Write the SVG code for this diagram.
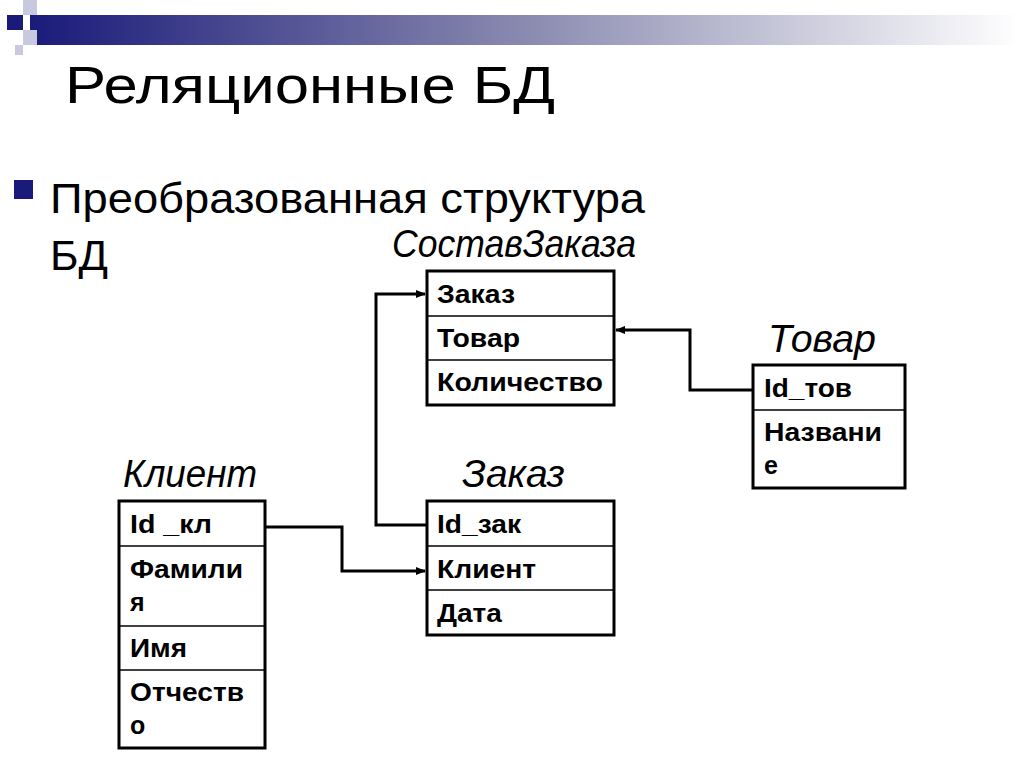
<svg xmlns="http://www.w3.org/2000/svg" width="1024" height="768" viewBox="0 0 1024 768">
<defs>
<linearGradient id="g" x1="0" x2="1" y1="0" y2="0">
<stop offset="0" stop-color="#1a1a7a"/><stop offset="0.5" stop-color="#8a8ab0"/><stop offset="1" stop-color="#ffffff"/>
</linearGradient>
<marker id="ar" markerWidth="10" markerHeight="8" refX="9" refY="4" orient="auto" markerUnits="userSpaceOnUse">
<path d="M0,0 L10,4 L0,8 Z" fill="#000"/>
</marker>
<style>
.t{fill:#fff;stroke:#000;stroke-width:3}
.r{stroke:#000;stroke-width:1.5}
.f{font-family:"Liberation Sans",Arial,sans-serif;font-weight:bold;font-size:25px;fill:#000}
.h{font-family:"Liberation Sans",Arial,sans-serif;font-style:italic;font-size:38px;fill:#000}
.c{fill:none;stroke:#000;stroke-width:3}
</style>
</defs>
<rect width="1024" height="768" fill="#fff"/>
<rect x="30" y="15" width="990" height="30" fill="url(#g)"/>
<rect x="7" y="15" width="16" height="15" fill="#1a1a7a"/>
<rect x="23" y="0" width="14" height="15" fill="#c8c8e0"/>
<rect x="23" y="30" width="14" height="15" fill="#c8c8e0"/>
<rect x="15" y="45" width="8" height="10" fill="#c8c8e0"/>
<text x="65" y="103" font-family="Liberation Sans,Arial,sans-serif" font-size="52" fill="#000" textLength="490" lengthAdjust="spacingAndGlyphs">Реляционные БД</text>
<rect x="14" y="180" width="19" height="19" fill="#1a1a7a"/>
<text x="50" y="213" font-family="Liberation Sans,Arial,sans-serif" font-size="42" fill="#000" textLength="595" lengthAdjust="spacingAndGlyphs">Преобразованная структура</text>
<text x="50" y="270" font-family="Liberation Sans,Arial,sans-serif" font-size="42" fill="#000" textLength="58" lengthAdjust="spacingAndGlyphs">БД</text>
<g id="connectors">
<polyline class="c" points="427,525 376,525 376,294 425,294" marker-end="url(#ar)"/>
<polyline class="c" points="265,527 342,527 342,571 425,571" marker-end="url(#ar)"/>
<polyline class="c" points="753,390 690,390 690,330 616,330" marker-end="url(#ar)"/>
</g>
<g id="sostav">
<text class="h" x="392" y="257" textLength="244" lengthAdjust="spacingAndGlyphs">СоставЗаказа</text>
<rect class="t" x="427" y="271" width="187" height="134"/>
<line class="r" x1="427" y1="316" x2="614" y2="316"/><line class="r" x1="427" y1="360" x2="614" y2="360"/>
<text class="f" x="437" y="303" textLength="78" lengthAdjust="spacingAndGlyphs">Заказ</text><text class="f" x="437" y="347" textLength="83" lengthAdjust="spacingAndGlyphs">Товар</text><text class="f" x="437" y="391" textLength="166" lengthAdjust="spacingAndGlyphs">Количество</text>
</g>
<g id="tovar">
<text class="h" x="768" y="352" textLength="108" lengthAdjust="spacingAndGlyphs">Товар</text>
<rect class="t" x="753" y="365" width="152" height="123"/>
<line class="r" x1="753" y1="410" x2="905" y2="410"/>
<text class="f" x="764" y="397" textLength="88" lengthAdjust="spacingAndGlyphs">Id_тов</text><text class="f" x="764" y="441" textLength="118" lengthAdjust="spacingAndGlyphs">Названи</text><text class="f" x="764" y="474">е</text>
</g>
<g id="klient">
<text class="h" x="123" y="487" textLength="134" lengthAdjust="spacingAndGlyphs">Клиент</text>
<rect class="t" x="119" y="501" width="146" height="247"/>
<line class="r" x1="119" y1="546" x2="265" y2="546"/><line class="r" x1="119" y1="626" x2="265" y2="626"/><line class="r" x1="119" y1="670" x2="265" y2="670"/>
<text class="f" x="130" y="533" textLength="82" lengthAdjust="spacingAndGlyphs">Id _кл</text><text class="f" x="130" y="578" textLength="113" lengthAdjust="spacingAndGlyphs">Фамили</text><text class="f" x="130" y="611">я</text>
<text class="f" x="130" y="657" textLength="57" lengthAdjust="spacingAndGlyphs">Имя</text><text class="f" x="130" y="701" textLength="114" lengthAdjust="spacingAndGlyphs">Отчеств</text><text class="f" x="130" y="734">о</text>
</g>
<g id="zakaz">
<text class="h" x="462" y="487" textLength="103" lengthAdjust="spacingAndGlyphs">Заказ</text>
<rect class="t" x="427" y="501" width="187" height="134"/>
<line class="r" x1="427" y1="546" x2="614" y2="546"/><line class="r" x1="427" y1="590" x2="614" y2="590"/>
<text class="f" x="437" y="533" textLength="84" lengthAdjust="spacingAndGlyphs">Id_зак</text><text class="f" x="437" y="578" textLength="99" lengthAdjust="spacingAndGlyphs">Клиент</text><text class="f" x="437" y="622" textLength="65" lengthAdjust="spacingAndGlyphs">Дата</text>
</g>
</svg>
